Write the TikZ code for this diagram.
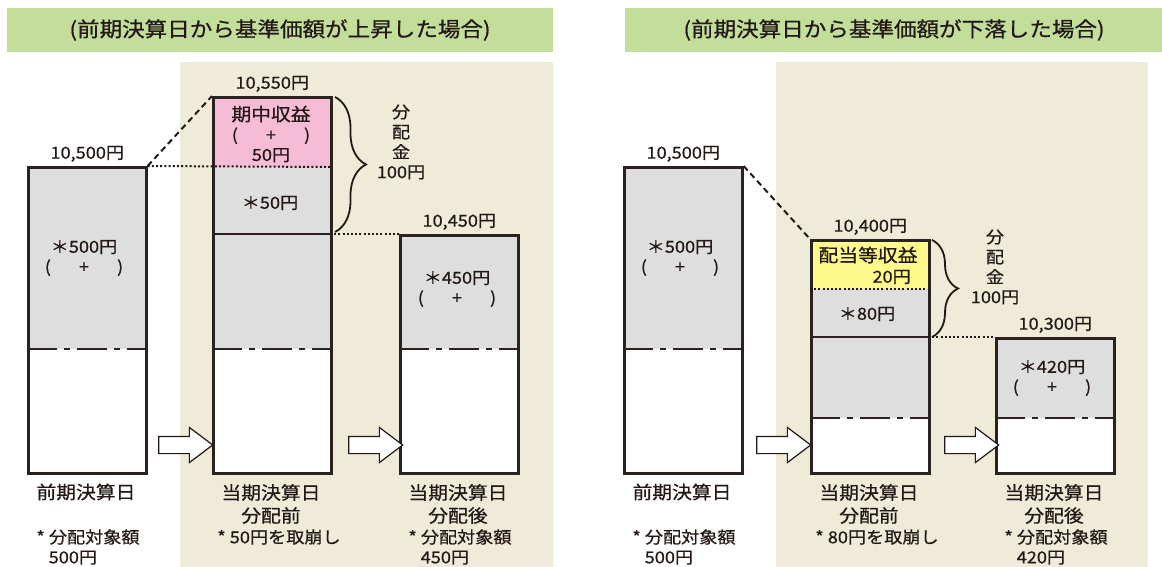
\documentclass[tikz,border=0pt]{standalone}
\usepackage{fontspec}
\setmainfont{Noto Sans CJK JP}[FakeStretch=1.1, FakeBold=0.6]
\usetikzlibrary{positioning,decorations.pathreplacing,shapes.arrows}
\definecolor{barGreen}{HTML}{C2DE9A}
\definecolor{panelBeige}{HTML}{EEEBD8}
\definecolor{fundGray}{HTML}{DEDEDE}
\definecolor{gainPink}{HTML}{F6BCD5}
\definecolor{incYellow}{HTML}{FFF98C}
\definecolor{boxLine}{HTML}{2B2220}
\definecolor{ink}{HTML}{231815}

\begin{document}
\begin{tikzpicture}[x=1pt, y=-1pt,
	box/.style={draw=boxLine, line width=2.6pt, minimum width=118pt, anchor=north west, inner sep=0pt},
	val/.style={text=ink, font=\fontsize{16.5}{20}\selectfont, inner sep=1pt, align=center},
	caption/.style={text=ink, font=\fontsize{18}{23}\selectfont, inner sep=1pt, align=center},
	heading/.style={text=ink, font=\fontsize{20.5}{24}\selectfont},
	fwd/.style={single arrow, draw=ink, fill=white, line width=1.2pt, minimum height=54pt, single arrow head extend=9pt, single arrow tip angle=74, inner xsep=0pt, inner ysep=8pt},
	dashline/.style={draw=ink, line width=2pt, dash pattern=on 6pt off 4pt},
	dotline/.style={draw=ink, line width=2pt, dash pattern=on 2pt off 2.2pt},
	cutline/.style={draw=boxLine, line width=2.6pt, dash pattern=on 30pt off 7pt on 6pt off 7pt},
	solidline/.style={draw=boxLine, line width=2.6pt},
	curly/.style={draw=ink, line width=1.8pt, decorate, decoration={brace, amplitude=#1}}]

	\useasboundingbox (0,0) rectangle (1162,567);

	% PANELS
	\fill[barGreen] (7,8) rectangle (553,52);
	\fill[barGreen] (625,8) rectangle (1162,52);
	\fill[panelBeige] (180,62) rectangle (553,567);
	\fill[panelBeige] (776,62) rectangle (1148,567);
	\node[heading] (titleUp) at (280,30) {(前期決算日から基準価額が上昇した場合)};
	\node[heading] (titleDown) at (894,30) {(前期決算日から基準価額が下落した場合)};

	% LEFT: FILLS
	\fill[fundGray] (27,166) rectangle (145,349);
	\fill[white] (27,349) rectangle (145,472);
	\fill[gainPink] (212,96) rectangle (330,167);
	\fill[fundGray] (212,167) rectangle (330,349);
	\fill[white] (212,349) rectangle (330,472);
	\fill[fundGray] (399,234) rectangle (517,349);
	\fill[white] (399,349) rectangle (517,472);

	% RIGHT: FILLS
	\fill[fundGray] (623,166) rectangle (741,349);
	\fill[white] (623,349) rectangle (741,472);
	\fill[incYellow] (810,239) rectangle (928,289);
	\fill[fundGray] (810,289) rectangle (928,418);
	\fill[white] (810,418) rectangle (928,472);
	\fill[fundGray] (995,337) rectangle (1113,418);
	\fill[white] (995,418) rectangle (1113,472);

	% LEFT: BOXES
	\node[box, minimum height=306pt] (upPrev) at (27,166) {};
	\node[box, minimum height=376pt] (upBefore) at (212,96) {};
	\node[box, minimum height=238pt] (upAfter) at (399,234) {};
	\draw[cutline] (27,349) -- (145,349);
	\draw[cutline] (212,349) -- (330,349);
	\draw[cutline] (399,349) -- (517,349);

	\coordinate (upGain) at (330,167);
	\coordinate (upCut) at (330,234);
	\draw[dashline] (upPrev.north east) -- (upBefore.north west);
	\draw[dotline] (upPrev.north east) -- (upGain);
	\draw[solidline] (212,234) -- (upCut);
	\draw[dotline] (upCut) -- (upAfter.north west);
	\draw[curly=31pt] (335,97) -- (335,232);

	\node[fwd] (upStep1) at (180,445) {};
	\node[fwd] (upStep2) at (370,445) {};

	% RIGHT: BOXES
	\node[box, minimum height=306pt] (downPrev) at (623,166) {};
	\node[box, minimum height=233pt] (downBefore) at (810,239) {};
	\node[box, minimum height=135pt] (downAfter) at (995,337) {};
	\draw[cutline] (623,349) -- (741,349);
	\draw[cutline] (810,418) -- (928,418);
	\draw[cutline] (995,418) -- (1113,418);

	\coordinate (downCut) at (928,337);
	\draw[dashline] (downPrev.north east) -- (downBefore.north west);
	\draw[dotline] (810,289) -- (928,289);
	\draw[solidline] (810,337) -- (downCut);
	\draw[dotline] (downCut) -- (downAfter.north west);
	\draw[curly=26pt] (932,240) -- (932,337);

	\node[fwd] (downStep1) at (778,445) {};
	\node[fwd] (downStep2) at (966,445) {};

	% LEFT: TEXTS
	\node[val, above=3pt of upPrev.north] (upPrevTop) {10,500円};
	\node[val, above=3pt of upBefore.north] (upBeforeTop) {10,550円};
	\node[val, above=3pt of upAfter.north] (upAfterTop) {10,450円};
	\node[val] (upPrevAmt) at (84,258) {＊500円\\(\hspace{1.7em}+\hspace{1.7em})};
	\node[val] (upGainTxt) at (271,134) {{\fontsize{18}{20}\selectfont 期中収益}\\(\hspace{1.7em}+\hspace{1.7em})\\50円};
	\node[val] (upDrawAmt) at (270,203) {＊50円};
	\node[val] (upAfterAmt) at (457,289) {＊450円\\(\hspace{1.7em}+\hspace{1.7em})};
	\node[val] (upPaid) at (401,142) {分\\配\\金\\100円};

	\node[caption] (upPrevCap) at (86,492) {前期決算日};
	\node[caption] (upBeforeCap) at (271,504) {当期決算日\\分配前};
	\node[caption] (upAfterCap) at (458,504) {当期決算日\\分配後};
	\node[val, align=left] (upPrevNote) at (88,547) {* 分配対象額\\\hspace{0.75em}500円};
	\node[val] (upBeforeNote) at (279,537) {* 50円を取崩し};
	\node[val, align=left] (upAfterNote) at (460,547) {* 分配対象額\\\hspace{0.75em}450円};

	% RIGHT: TEXTS
	\node[val, above=3pt of downPrev.north] (downPrevTop) {10,500円};
	\node[val, above=3pt of downBefore.north] (downBeforeTop) {10,400円};
	\node[val, above=3pt of downAfter.north] (downAfterTop) {10,300円};
	\node[val] (downPrevAmt) at (680,258) {＊500円\\(\hspace{1.7em}+\hspace{1.7em})};
	\node[caption] (downIncTxt) at (868,255) {配当等収益};
	\node[val, anchor=east] (downIncAmt) at (912,277) {20円};
	\node[val] (downDrawAmt) at (867,314) {＊80円};
	\node[val] (downAfterAmt) at (1052,378) {＊420円\\(\hspace{1.7em}+\hspace{1.7em})};
	\node[val] (downPaid) at (995,267) {分\\配\\金\\100円};

	\node[caption] (downPrevCap) at (682,492) {前期決算日};
	\node[caption] (downBeforeCap) at (869,504) {当期決算日\\分配前};
	\node[caption] (downAfterCap) at (1054,504) {当期決算日\\分配後};
	\node[val, align=left] (downPrevNote) at (684,547) {* 分配対象額\\\hspace{0.75em}500円};
	\node[val] (downBeforeNote) at (877,537) {* 80円を取崩し};
	\node[val, align=left] (downAfterNote) at (1056,547) {* 分配対象額\\\hspace{0.75em}420円};
\end{tikzpicture}
\end{document}
